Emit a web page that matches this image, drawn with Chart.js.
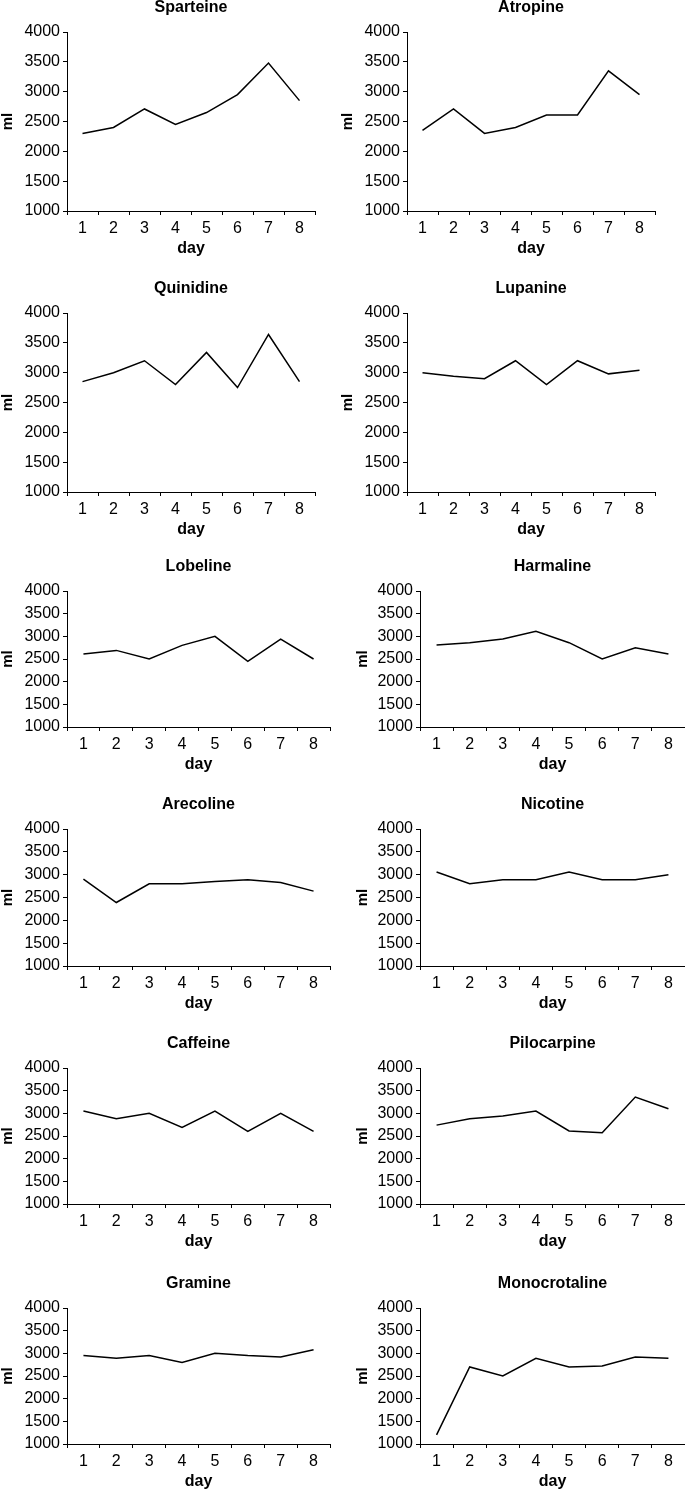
<!DOCTYPE html>
<html>
<head>
<meta charset="utf-8">
<script src="https://cdn.jsdelivr.net/npm/chart.js@4"></script>
<style>
  html, body { margin: 0; padding: 0; background: #fff; }
  body { position: relative; width: 685px; height: 1492px; overflow: hidden; }
  canvas { position: absolute; }
</style>
</head>
<body>
<script>
// ---------------- DATA ----------------
const days = ["1", "2", "3", "4", "5", "6", "7", "8"];
const yTicks = [1000, 1500, 2000, 2500, 3000, 3500, 4000];

const sparteine     = [2300, 2400, 2710, 2450, 2650, 2950, 3480, 2850];
const atropine      = [2350, 2710, 2300, 2400, 2610, 2610, 3350, 2950];
const quinidine     = [2850, 3000, 3200, 2800, 3340, 2750, 3640, 2850];
const lupanine      = [3000, 2940, 2900, 3200, 2800, 3200, 2980, 3040];
const lobeline      = [2610, 2690, 2500, 2800, 3000, 2450, 2940, 2500];
const harmaline     = [2810, 2860, 2940, 3110, 2860, 2500, 2750, 2610];
const arecoline     = [2900, 2390, 2800, 2800, 2850, 2890, 2830, 2640];
const nicotine      = [3060, 2800, 2890, 2890, 3060, 2890, 2890, 3000];
const caffeine      = [3050, 2880, 3000, 2690, 3050, 2600, 3000, 2600];
const pilocarpine   = [2740, 2880, 2940, 3050, 2610, 2570, 3360, 3100];
const gramine       = [2950, 2890, 2950, 2800, 3000, 2950, 2920, 3080];
const monocrotaline = [1200, 2700, 2500, 2890, 2700, 2720, 2920, 2890];

const titles = ["Sparteine", "Atropine", "Quinidine", "Lupanine", "Lobeline", "Harmaline",
                "Arecoline", "Nicotine", "Caffeine", "Pilocarpine", "Gramine", "Monocrotaline"];
const series = [sparteine, atropine, quinidine, lupanine, lobeline, harmaline,
                arecoline, nicotine, caffeine, pilocarpine, gramine, monocrotaline];

// ---------------- LAYOUT (page px of each plot frame) ----------------
const rows = [
  { top: 32,   bottom: 211,  left: [67, 315], right: [407, 655], mlPad: [0, 0] },
  { top: 313,  bottom: 492,  left: [67, 315], right: [407, 655], mlPad: [0, 0] },
  { top: 591,  bottom: 727,  left: [67, 330], right: [420, 685], mlPad: [0, 15.5] },
  { top: 829,  bottom: 966,  left: [67, 330], right: [420, 685], mlPad: [0, 15.5] },
  { top: 1068, bottom: 1204, left: [67, 330], right: [420, 685], mlPad: [0, 15.5] },
  { top: 1308, bottom: 1444, left: [67, 330], right: [420, 685], mlPad: [0, 15.5] }
];

const FONT = "'Liberation Sans', Arial, Helvetica, sans-serif";
const TOP_SPACE = 36;   // title area above plot
const X_AXIS_H = 47;    // ticks + "day" below plot

function makeChart(title, values, box) {
  const canvas = document.createElement("canvas");
  const w = box.plotRight - box.x0 + 1;
  const h = TOP_SPACE + (box.plotBottom - box.plotTop) + X_AXIS_H;
  canvas.width = w;
  canvas.height = h;
  canvas.style.left = box.x0 + "px";
  canvas.style.top = (box.plotTop - TOP_SPACE) + "px";
  document.body.appendChild(canvas);

  new Chart(canvas, {
    type: "line",
    data: {
      labels: days,
      datasets: [{
        data: values,
        borderColor: "#000",
        borderWidth: 1.5,
        pointRadius: 0,
        tension: 0,
        fill: false
      }]
    },
    options: {
      responsive: false,
      animation: false,
      events: [],
      layout: { padding: { right: 1 } },
      plugins: {
        legend: { display: false },
        tooltip: { enabled: false },
        title: {
          display: true,
          text: title,
          fullSize: false,
          color: "#000",
          font: { family: FONT, size: 16, weight: "bold", lineHeight: 1.2 },
          padding: { top: 2.4, bottom: 14.4 }
        }
      },
      scales: {
        x: {
          offset: true,
          grid: { offset: true, drawOnChartArea: false, tickLength: 4, color: "#000" },
          border: { color: "#000", width: 1 },
          ticks: { color: "#000", font: { family: FONT, size: 16 }, padding: 4, maxRotation: 0, autoSkip: false },
          title: {
            display: true, text: "day", color: "#000", padding: 0,
            font: { family: FONT, size: 16, weight: "bold", lineHeight: 1.2 }
          },
          afterFit: s => { s.height = X_AXIS_H; }
        },
        y: {
          min: 1000,
          max: 4000,
          grid: { drawOnChartArea: false, tickLength: 4, color: "#000" },
          border: { color: "#000", width: 1 },
          afterBuildTicks: s => { s.ticks = yTicks.map(v => ({ value: v })); },
          ticks: { color: "#000", font: { family: FONT, size: 16 }, padding: 3, callback: v => String(v) },
          title: {
            display: true, text: "ml", color: "#000",
            padding: { top: box.mlPad, bottom: 0 },
            font: { family: FONT, size: 15, weight: "bold", lineHeight: 1 }
          },
          afterFit: s => { s.width = box.axisX - box.x0; }
        }
      }
    }
  });
}

// ---------------- BUILD ----------------
titles.forEach((t, i) => {
  const r = rows[Math.floor(i / 2)];
  const col = i % 2;
  const span = col === 0 ? r.left : r.right;
  makeChart(t, series[i], {
    x0: col === 0 ? 0 : 340,
    axisX: span[0],
    plotRight: span[1],
    plotTop: r.top,
    plotBottom: r.bottom,
    mlPad: r.mlPad[col]
  });
});
</script>
</body>
</html>
